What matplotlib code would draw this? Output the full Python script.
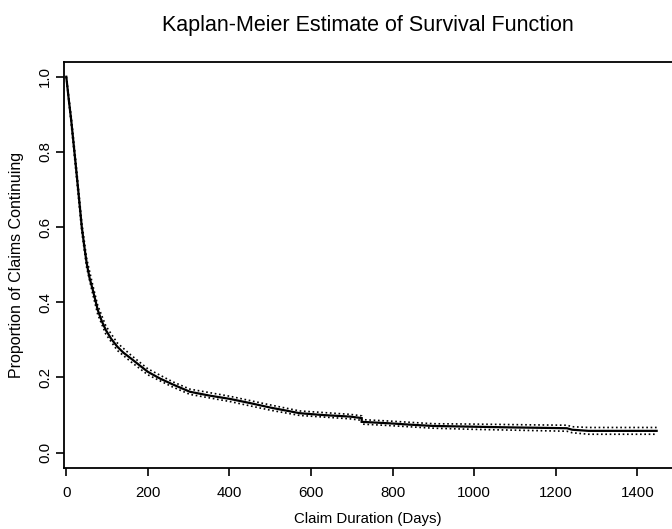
import matplotlib
matplotlib.use("Agg")
import matplotlib.pyplot as plt

plt.rcParams['font.family'] = ['Liberation Sans', 'DejaVu Sans']

# Kaplan-Meier estimate
km_time = [0, 6, 12, 22, 30, 38, 44, 50, 57, 65, 77, 87, 97, 110, 125, 140, 158, 180,
           200, 230, 260, 303, 350, 401, 450, 500, 572, 630, 695, 724, 724, 793, 850,
           900, 1000, 1100, 1137, 1227, 1240, 1280, 1350, 1447]
km_surv = [1.0, 0.94, 0.885, 0.778, 0.69, 0.60, 0.55, 0.504, 0.465, 0.433, 0.38, 0.35,
           0.326, 0.303, 0.282, 0.266, 0.251, 0.232, 0.215, 0.197, 0.182, 0.162, 0.152,
           0.143, 0.132, 0.12, 0.105, 0.10, 0.096, 0.092, 0.082, 0.078, 0.074, 0.071,
           0.069, 0.067, 0.0665, 0.065, 0.061, 0.058, 0.058, 0.058]

# confidence band
ci_time = [0, 12, 22, 38, 50, 65, 77, 97, 125, 158, 200, 260, 303, 401, 500, 572, 695,
           724, 724, 793, 900, 1000, 1137, 1227, 1240, 1280, 1447]
ci_upper = [1.0, 0.895, 0.79, 0.612, 0.516, 0.445, 0.392, 0.337, 0.292, 0.260, 0.223,
            0.189, 0.169, 0.150, 0.127, 0.111, 0.102, 0.098, 0.088, 0.084, 0.077, 0.076,
            0.074, 0.073, 0.069, 0.067, 0.067]
ci_lower = [1.0, 0.875, 0.766, 0.588, 0.492, 0.421, 0.368, 0.315, 0.272, 0.242, 0.207,
            0.175, 0.155, 0.136, 0.113, 0.099, 0.090, 0.086, 0.076, 0.072, 0.065, 0.062,
            0.059, 0.057, 0.053, 0.049, 0.049]

x_ticks = [0, 200, 400, 600, 800, 1000, 1200, 1400]
y_ticks = [0.0, 0.2, 0.4, 0.6, 0.8, 1.0]
y_ticklabels = ["0.0", "0.2", "0.4", "0.6", "0.8", "1.0"]

fig = plt.figure(figsize=(6.72, 5.29), dpi=100)
ax = fig.add_axes([64 / 672, 1 - 467.7 / 529, 1 - 64 / 672, (467.7 - 61.7) / 529])

ax.plot(km_time, km_surv, color='black', lw=1.6, solid_joinstyle='miter')
ax.plot(ci_time, ci_upper, color='black', lw=1.2, linestyle=(0, (1, 1.6)))
ax.plot(ci_time, ci_lower, color='black', lw=1.2, linestyle=(0, (1, 1.6)))

ax.set_xlim(-5.6, 1484.6)
ax.set_ylim(-0.04, 1.04)
ax.set_xticks(x_ticks)
ax.set_xticklabels([str(v) for v in x_ticks])
ax.set_yticks(y_ticks)
ax.set_yticklabels(y_ticklabels, rotation=90, va='center')

for s in ['left', 'top', 'bottom']:
    ax.spines[s].set_linewidth(1.3)
ax.spines['right'].set_visible(False)
ax.tick_params(axis='both', direction='out', length=6, width=1.2, labelsize=10.8)
ax.tick_params(axis='x', pad=7)
ax.tick_params(axis='y', pad=2.5)

ax.set_xlabel("Claim Duration (Days)", fontsize=10.8, labelpad=9)
fig.text(17 / 672, 1 - 264.7 / 529, "Proportion of Claims Continuing", rotation=90,
         ha='center', va='center', fontsize=11.5)
fig.text((64 + 672) / 2 / 672, 1 - 31 / 529, "Kaplan-Meier Estimate of Survival Function",
         ha='center', va='baseline', fontsize=15.5)

fig.savefig("out.png", dpi=100)
